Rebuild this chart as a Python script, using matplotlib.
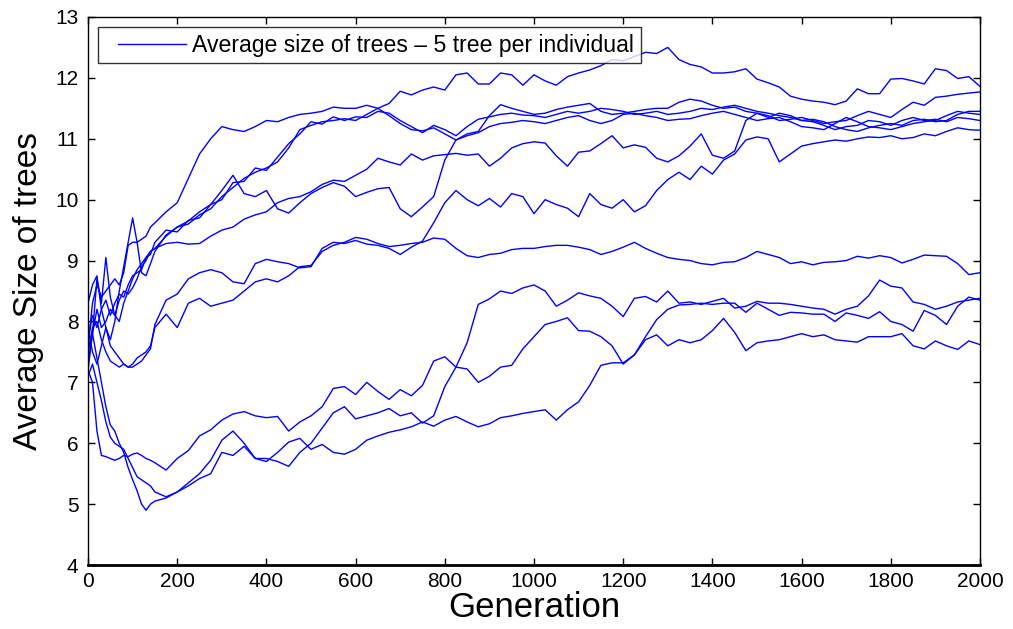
import numpy as np
import matplotlib
matplotlib.use("Agg")
import matplotlib.pyplot as plt
from matplotlib.legend_handler import HandlerLine2D

plt.rcParams['font.family'] = ['Liberation Sans', 'DejaVu Sans']

# Generation at which each run's average tree size was recorded
generation = [0, 10, 20, 30, 40, 50, 60, 70, 80, 90, 100, 110, 120, 130, 140, 150] + list(range(175, 2001, 25))

# Average tree size per run (10 independent runs)
run_1 = [7.6, 8.3, 8.6, 8.4, 8.5, 8.6, 8.7, 8.6, 8.8, 9.25, 9.3, 9.3, 9.35, 9.4, 9.55, 9.62,
         9.8, 9.95, 10.35, 10.75, 11.0, 11.2, 11.15, 11.12, 11.2, 11.3, 11.28, 11.35, 11.4, 11.42,
         11.45, 11.52, 11.5, 11.5, 11.55, 11.5, 11.58, 11.78, 11.72, 11.8, 11.85, 11.8, 12.05, 12.08,
         11.9, 11.9, 12.08, 12.05, 11.88, 12.05, 11.95, 11.88, 12.02, 12.08, 12.13, 12.2, 12.3, 12.28,
         12.35, 12.42, 12.4, 12.5, 12.3, 12.22, 12.18, 12.08, 12.08, 12.1, 12.15, 11.98, 11.92, 11.85,
         11.7, 11.65, 11.62, 11.6, 11.56, 11.62, 11.82, 11.74, 11.74, 11.98, 11.99, 11.95, 11.9, 12.15,
         12.12, 11.99, 12.02, 11.86]
run_2 = [7.3, 7.8, 8.2, 7.9, 8.0, 8.2, 8.1, 8.35, 8.5, 8.45, 8.55, 8.7, 8.9, 9.0, 9.15, 9.2,
         9.4, 9.55, 9.6, 9.75, 9.85, 10.05, 10.2, 10.35, 10.45, 10.52, 10.62, 10.85, 11.15, 11.22,
         11.28, 11.3, 11.33, 11.3, 11.4, 11.5, 11.38, 11.25, 11.15, 11.13, 11.18, 11.08, 10.98, 11.08,
         11.12, 11.38, 11.56, 11.5, 11.45, 11.4, 11.42, 11.48, 11.52, 11.55, 11.58, 11.45, 11.4, 11.42,
         11.45, 11.48, 11.5, 11.5, 11.6, 11.65, 11.62, 11.55, 11.5, 11.52, 11.45, 11.42, 11.38, 11.3,
         11.32, 11.35, 11.3, 11.25, 11.28, 11.3, 11.38, 11.45, 11.4, 11.35, 11.48, 11.6, 11.55, 11.68,
         11.7, 11.73, 11.75, 11.77]
run_3 = [7.9, 7.5, 7.3, 7.6, 7.9, 7.7, 8.0, 8.5, 8.9, 9.3, 9.7, 9.3, 8.8, 8.75, 8.95, 9.15,
         9.42, 9.55, 9.65, 9.8, 9.92, 10.15, 10.4, 10.1, 10.05, 10.15, 9.85, 9.78, 9.95, 10.1,
         10.2, 10.28, 10.22, 10.05, 10.12, 10.18, 10.2, 9.85, 9.72, 9.88, 10.05, 10.65, 10.98, 11.05,
         11.1, 11.2, 11.25, 11.27, 11.3, 11.28, 11.25, 11.3, 11.35, 11.38, 11.3, 11.25, 11.3, 11.4,
         11.42, 11.38, 11.35, 11.3, 11.32, 11.33, 11.38, 11.42, 11.45, 11.4, 11.35, 11.3, 11.33, 11.35,
         11.28, 11.2, 11.18, 11.15, 11.25, 11.35, 11.28, 11.2, 11.18, 11.15, 11.2, 11.25, 11.28, 11.3,
         11.38, 11.45, 11.42, 11.4]
run_4 = [7.2, 7.8, 8.7, 8.3, 9.05, 8.4, 8.1, 8.0, 8.3, 8.5, 8.7, 8.85, 8.95, 9.05, 9.15, 9.2,
         9.28, 9.3, 9.27, 9.28, 9.4, 9.5, 9.55, 9.68, 9.75, 9.8, 9.95, 10.02, 10.05, 10.13,
         10.25, 10.32, 10.3, 10.4, 10.5, 10.68, 10.62, 10.57, 10.75, 10.65, 10.72, 10.74, 10.76, 10.73,
         10.75, 10.55, 10.68, 10.85, 10.92, 10.95, 10.93, 10.72, 10.55, 10.78, 10.8, 10.92, 11.05, 10.85,
         10.9, 10.86, 10.68, 10.62, 10.72, 10.88, 11.08, 10.73, 10.68, 10.8, 11.3, 11.42, 11.35, 11.42,
         11.38, 11.3, 11.28, 11.22, 11.15, 11.2, 11.22, 11.3, 11.28, 11.22, 11.3, 11.35, 11.3, 11.32,
         11.28, 11.35, 11.33, 11.3]
run_5 = [8.3, 8.6, 8.75, 8.2, 7.9, 7.6, 7.5, 7.4, 7.3, 7.25, 7.25, 7.3, 7.35, 7.45, 7.55, 7.95,
         8.35, 8.45, 8.7, 8.8, 8.85, 8.8, 8.65, 8.62, 8.95, 9.02, 8.98, 8.95, 8.88, 8.9,
         9.2, 9.3, 9.28, 9.33, 9.27, 9.25, 9.2, 9.1, 9.22, 9.32, 9.62, 9.95, 10.15, 10.0,
         9.9, 10.02, 9.88, 10.1, 10.05, 9.77, 10.0, 9.92, 9.86, 9.72, 10.1, 9.92, 9.86, 10.0,
         9.8, 9.9, 10.15, 10.33, 10.45, 10.33, 10.55, 10.42, 10.65, 10.75, 10.98, 11.03, 11.0, 10.62,
         10.75, 10.88, 10.92, 10.95, 10.98, 10.96, 11.0, 11.03, 11.02, 11.05, 11.0, 11.02, 11.08, 11.05,
         11.12, 11.18, 11.15, 11.14]
run_6 = [7.5, 7.9, 8.0, 7.7, 7.5, 7.35, 7.3, 7.25, 7.3, 7.25, 7.3, 7.4, 7.45, 7.5, 7.6, 7.9,
         8.12, 7.9, 8.3, 8.38, 8.25, 8.3, 8.35, 8.5, 8.65, 8.7, 8.65, 8.75, 8.9, 8.92,
         9.15, 9.25, 9.3, 9.38, 9.35, 9.28, 9.23, 9.25, 9.28, 9.3, 9.37, 9.35, 9.2, 9.08,
         9.05, 9.1, 9.12, 9.18, 9.2, 9.2, 9.23, 9.25, 9.25, 9.22, 9.18, 9.1, 9.15, 9.22,
         9.3, 9.2, 9.12, 9.05, 9.02, 9.0, 8.95, 8.93, 8.97, 8.98, 9.05, 9.15, 9.1, 9.05,
         8.95, 8.98, 8.93, 8.97, 8.98, 9.0, 9.07, 9.04, 9.08, 9.05, 8.96, 9.02, 9.09, 9.08,
         9.07, 8.95, 8.77, 8.8]
run_7 = [7.2, 7.0, 6.2, 5.8, 5.78, 5.75, 5.72, 5.75, 5.8, 5.78, 5.82, 5.84, 5.8, 5.75, 5.72, 5.68,
         5.56, 5.75, 5.88, 6.12, 6.22, 6.38, 6.48, 6.52, 6.45, 6.42, 6.44, 6.2, 6.35, 6.45,
         6.6, 6.9, 6.93, 6.8, 7.0, 6.85, 6.72, 6.88, 6.78, 6.95, 7.35, 7.42, 7.25, 7.22,
         7.0, 7.1, 7.25, 7.28, 7.55, 7.75, 7.95, 8.0, 8.06, 7.85, 7.84, 7.75, 7.6, 7.3,
         7.45, 7.7, 7.78, 7.6, 7.7, 7.65, 7.7, 7.85, 8.05, 7.82, 7.52, 7.65, 7.68, 7.7,
         7.75, 7.8, 7.75, 7.78, 7.7, 7.68, 7.66, 7.75, 7.75, 7.75, 7.8, 7.6, 7.55, 7.68,
         7.6, 7.54, 7.68, 7.62]
run_8 = [7.5, 7.8, 7.4, 7.0, 6.6, 6.3, 6.2, 6.0, 5.85, 5.6, 5.4, 5.22, 5.0, 4.9, 5.0, 5.05,
         5.1, 5.2, 5.3, 5.42, 5.5, 5.85, 5.8, 5.95, 5.75, 5.75, 5.7, 5.62, 5.85, 6.0,
         6.25, 6.5, 6.6, 6.4, 6.45, 6.5, 6.57, 6.45, 6.5, 6.33, 6.45, 6.93, 7.25, 7.65,
         8.28, 8.37, 8.5, 8.46, 8.55, 8.6, 8.5, 8.25, 8.35, 8.47, 8.42, 8.38, 8.25, 8.08,
         8.38, 8.41, 8.32, 8.5, 8.3, 8.32, 8.28, 8.33, 8.38, 8.22, 8.25, 8.33, 8.3, 8.3,
         8.28, 8.25, 8.22, 8.2, 8.12, 8.2, 8.25, 8.42, 8.68, 8.58, 8.55, 8.32, 8.28, 8.2,
         8.25, 8.32, 8.35, 8.38]
run_9 = [7.1, 7.3, 7.0, 6.7, 6.35, 6.1, 6.0, 5.95, 5.9, 5.75, 5.6, 5.45, 5.4, 5.35, 5.3, 5.2,
         5.12, 5.2, 5.35, 5.5, 5.72, 6.05, 6.2, 6.0, 5.75, 5.7, 5.85, 6.02, 6.08, 5.9,
         5.98, 5.85, 5.82, 5.9, 6.05, 6.12, 6.18, 6.22, 6.27, 6.35, 6.28, 6.38, 6.44, 6.35,
         6.27, 6.32, 6.42, 6.45, 6.49, 6.52, 6.55, 6.38, 6.55, 6.68, 6.95, 7.28, 7.32, 7.32,
         7.45, 7.75, 8.03, 8.2, 8.27, 8.28, 8.3, 8.28, 8.3, 8.3, 8.15, 8.3, 8.2, 8.1,
         8.15, 8.14, 8.12, 8.12, 8.0, 8.14, 8.1, 8.05, 8.16, 8.0, 7.95, 7.84, 8.18, 8.1,
         7.95, 8.25, 8.4, 8.35]
run_10 = [7.7, 8.1, 7.9, 8.2, 8.35, 8.1, 8.3, 8.45, 8.4, 8.6, 8.75, 8.8, 8.85, 9.05, 9.1, 9.3,
          9.5, 9.47, 9.66, 9.7, 9.92, 10.0, 10.28, 10.3, 10.52, 10.48, 10.7, 10.92, 11.08, 11.28,
          11.24, 11.36, 11.3, 11.36, 11.35, 11.45, 11.42, 11.3, 11.2, 11.1, 11.22, 11.15, 11.05, 11.2,
          11.32, 11.36, 11.4, 11.42, 11.39, 11.38, 11.35, 11.4, 11.45, 11.42, 11.45, 11.5, 11.48, 11.45,
          11.4, 11.42, 11.45, 11.4, 11.42, 11.45, 11.5, 11.48, 11.52, 11.55, 11.5, 11.45, 11.42, 11.38,
          11.35, 11.3, 11.32, 11.28, 11.2, 11.15, 11.12, 11.18, 11.22, 11.25, 11.22, 11.3, 11.32, 11.28,
          11.3, 11.4, 11.45, 11.45]

runs = [run_1, run_2, run_3, run_4, run_5, run_6, run_7, run_8, run_9, run_10]
legend_label = "Average size of trees \u2013 5 tree per individual"


class InsetLine(HandlerLine2D):
    """Legend line that leaves a gap between the frame and the sample line."""
    def get_xdata(self, legend, xdescent, ydescent, width, height, fontsize):
        xdata, xdata_marker = super().get_xdata(legend, xdescent, ydescent, width, height, fontsize)
        inset = 0.16 * width
        return np.array([-xdescent + inset, -xdescent + width]), xdata_marker


fig = plt.figure(figsize=(10.13, 6.29), dpi=100)
ax = fig.add_axes([0.0869, 0.1017, 0.8805, 0.8713])

handles = []
for run in runs:
    line, = ax.plot(generation, run, color=(0, 0, 1), linewidth=1.0)
    handles.append(line)

ax.set_xlim(0, 2000)
ax.set_ylim(4, 13)
ax.set_xticks(range(0, 2001, 200))
ax.set_yticks(range(4, 14))
ax.tick_params(direction='in', top=True, right=True, length=5, width=1,
               labelsize=15, pad=5)
ax.tick_params(axis='y', pad=7)
for s in ax.spines.values():
    s.set_linewidth(1.0)
ax.spines['bottom'].set_linewidth(2.0)

ax.set_xlabel("Generation", fontsize=25, labelpad=0)
ax.set_ylabel("Average Size of trees", fontsize=24, labelpad=8)

leg = ax.legend([handles[0]], [legend_label], loc='upper left', fontsize=16.6,
                frameon=True, fancybox=False, handlelength=3.5,
                borderaxespad=0.45, borderpad=0.28, handletextpad=0.3,
                handler_map={handles[0]: InsetLine()})
leg.get_frame().set_edgecolor('black')
leg.get_frame().set_linewidth(1.0)

fig.savefig("out.png", dpi=100)
